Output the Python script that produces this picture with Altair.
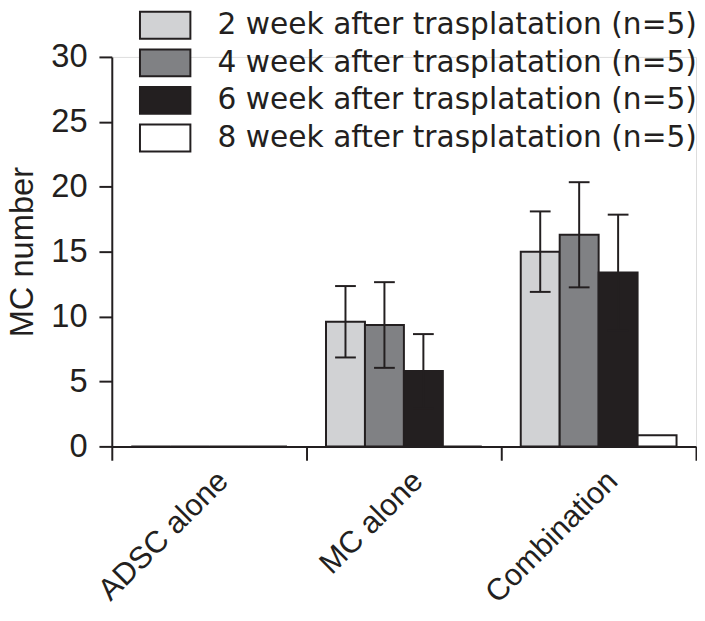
import altair as alt
import pandas as pd

groups = ["ADSC alone", "MC alone", "Combination"]
series = [
    "2 week after trasplatation (n=5)",
    "4 week after trasplatation (n=5)",
    "6 week after trasplatation (n=5)",
    "8 week after trasplatation (n=5)",
]
colors = ["#d1d2d4", "#808184", "#231f20", "#ffffff"]

mean_2wk = [0, 9.6, 15.0]
sd_2wk = [0, 2.75, 3.1]
mean_4wk = [0, 9.35, 16.3]
sd_4wk = [0, 3.3, 4.05]
mean_6wk = [0, 5.8, 13.4]
sd_6wk = [0, 2.85, 4.45]
mean_8wk = [0, 0, 0.85]
sd_8wk = [0, 0, 0]

means = [mean_2wk, mean_4wk, mean_6wk, mean_8wk]
sds = [sd_2wk, sd_4wk, sd_6wk, sd_8wk]

rows = []
for s, m_list, sd_list in zip(series, means, sds):
    for g, m, sd in zip(groups, m_list, sd_list):
        rows.append({"group": g, "series": s, "mean": m, "sd": sd,
                     "low": m - sd, "high": m + sd})
df = pd.DataFrame(rows)

INK = "#231f20"
FONT = "Liberation Sans"

x_enc = alt.X("group:N", sort=groups,
              scale=alt.Scale(paddingInner=0, paddingOuter=0),
              axis=alt.Axis(title=None, tickBand="extent", tickSize=14, tickWidth=2,
                            tickColor=INK, domainColor=INK, domainWidth=2,
                            labelAngle=-45, labelAlign="right", labelBaseline="middle",
                            labelFontSize=31, labelColor=INK, labelFont=FONT,
                            labelPadding=16, labelOffset=14))
xo_enc = alt.XOffset("series:N", sort=series,
                     scale=alt.Scale(domain=series, paddingInner=0, paddingOuter=0.5))
y_scale = alt.Scale(domain=[0, 30], nice=False)

bars = alt.Chart(df).mark_bar(stroke=INK, strokeWidth=2).encode(
    x=x_enc,
    xOffset=xo_enc,
    y=alt.Y("mean:Q", scale=y_scale,
            axis=alt.Axis(title="MC number", values=[0, 5, 10, 15, 20, 25, 30],
                          grid=False, tickSize=13, tickWidth=2, tickColor=INK,
                          domainColor=INK, domainWidth=2, labelFontSize=33,
                          labelColor=INK, labelFont=FONT, labelPadding=12,
                          titleFont=FONT, titleFontSize=33, titleFontWeight="normal",
                          titleColor=INK, titlePadding=11)),
    fill=alt.Fill("series:N", sort=series,
                  scale=alt.Scale(domain=series, range=colors),
                  legend=alt.Legend(title=None, orient="none", legendX=36, legendY=-50,
                                    symbolType="M-1.5,-0.8H1.5V0.8H-1.5Z", symbolSize=1156,
                                    symbolStrokeColor=INK, symbolStrokeWidth=2,
                                    symbolOpacity=1, labelFontSize=30,
                                    labelFont="DejaVu Sans",
                                    labelColor=INK, labelOffset=35, rowPadding=2,
                                    padding=0, labelLimit=0)),
)

err_df = df[df["sd"] > 0]

rules = alt.Chart(err_df).mark_rule(color=INK, strokeWidth=2).encode(
    x=alt.X("group:N", sort=groups),
    xOffset=alt.XOffset("series:N", sort=series),
    y=alt.Y("low:Q", scale=y_scale),
    y2="high:Q",
)
cap_hi = alt.Chart(err_df).mark_tick(color=INK, size=21, thickness=2, opacity=1).encode(
    x=alt.X("group:N", sort=groups),
    xOffset=alt.XOffset("series:N", sort=series),
    y=alt.Y("high:Q", scale=y_scale),
)
cap_lo = alt.Chart(err_df).mark_tick(color=INK, size=21, thickness=2, opacity=1).encode(
    x=alt.X("group:N", sort=groups),
    xOffset=alt.XOffset("series:N", sort=series),
    y=alt.Y("low:Q", scale=y_scale),
)

chart = alt.layer(bars, rules, cap_hi, cap_lo).properties(
    width=591, height=394,
    autosize=alt.AutoSizeParams(type="none"),
    padding={"left": 105, "top": 46, "right": 1, "bottom": 160},
).configure_view(stroke=None).configure(background="white")

chart.save("out.html", embed_options={"renderer": "svg", "actions": False})
